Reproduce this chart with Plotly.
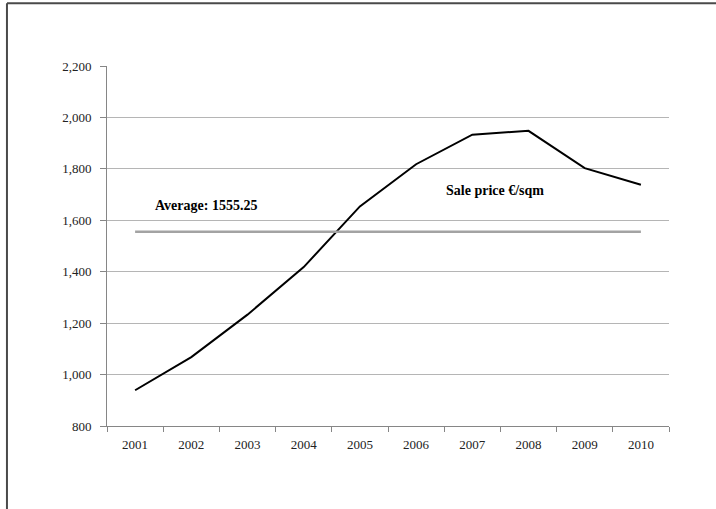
import plotly.graph_objects as go

# Average sale price per square metre, 2001-2010
years = ["2001", "2002", "2003", "2004", "2005", "2006", "2007", "2008", "2009", "2010"]
sale_price = [939, 1068, 1233, 1418, 1654, 1818, 1933, 1948, 1803, 1738]
average_price = 1555.25

series_label = "Sale price €/sqm"
average_label = f"Average: {average_price}"

y_ticks = [800, 1000, 1200, 1400, 1600, 1800, 2000, 2200]

SERIF = "Liberation Serif, Times New Roman, serif"

fig = go.Figure()

# yearly sale price
fig.add_trace(go.Scatter(
    x=years,
    y=sale_price,
    mode="lines",
    line=dict(color="#000000", width=2),
    name=series_label,
    showlegend=False,
))

# average reference line across the whole period
fig.add_trace(go.Scatter(
    x=[years[0], years[-1]],
    y=[average_price, average_price],
    mode="lines",
    line=dict(color="#a3a3a3", width=2.5),
    hoverinfo="skip",
    showlegend=False,
))

fig.add_annotation(
    x=0.082, xref="paper", y=1656, yref="y",
    text=f"<b>{average_label}</b>", showarrow=False,
    xanchor="left", yanchor="middle",
    font=dict(family=SERIF, size=14, color="#000000"),
)
fig.add_annotation(
    x=0.599, xref="paper", y=1715, yref="y",
    text=f"<b>{series_label}</b>", showarrow=False,
    xanchor="left", yanchor="middle",
    font=dict(family=SERIF, size=14, color="#000000"),
)

# outer frame (top and left edges)
fig.add_shape(type="line", xref="paper", yref="paper",
              x0=-0.178, x1=1.2, y0=1.174, y1=1.174,
              line=dict(color="#4a4a4a", width=2))
fig.add_shape(type="line", xref="paper", yref="paper",
              x0=-0.178, x1=-0.178, y0=1.174, y1=-0.3,
              line=dict(color="#4a4a4a", width=2))

fig.update_layout(
    width=716, height=509,
    margin=dict(l=107, r=47, t=66, b=83),
    paper_bgcolor="white",
    plot_bgcolor="white",
    font=dict(family=SERIF, size=13, color="#222222"),
    xaxis=dict(
        type="category",
        categoryorder="array", categoryarray=years,
        range=[-0.5, len(years) - 0.5],
        tickson="boundaries",
        ticks="outside", ticklen=5, tickcolor="#868686",
        ticklabelstandoff=6,
        showline=True, linecolor="#868686", linewidth=1,
        showgrid=False, zeroline=False,
        tickfont=dict(family=SERIF, size=13, color="#222222"),
    ),
    yaxis=dict(
        range=[800, 2200],
        tickvals=y_ticks,
        tickformat=",d",
        ticks="outside", ticklen=6, tickcolor="#868686",
        ticklabelstandoff=6,
        showline=True, linecolor="#868686", linewidth=1,
        showgrid=True, gridcolor="#b5b5b5", gridwidth=1,
        zeroline=False,
        tickfont=dict(family=SERIF, size=13, color="#222222"),
    ),
)

fig.write_html("out.html")
